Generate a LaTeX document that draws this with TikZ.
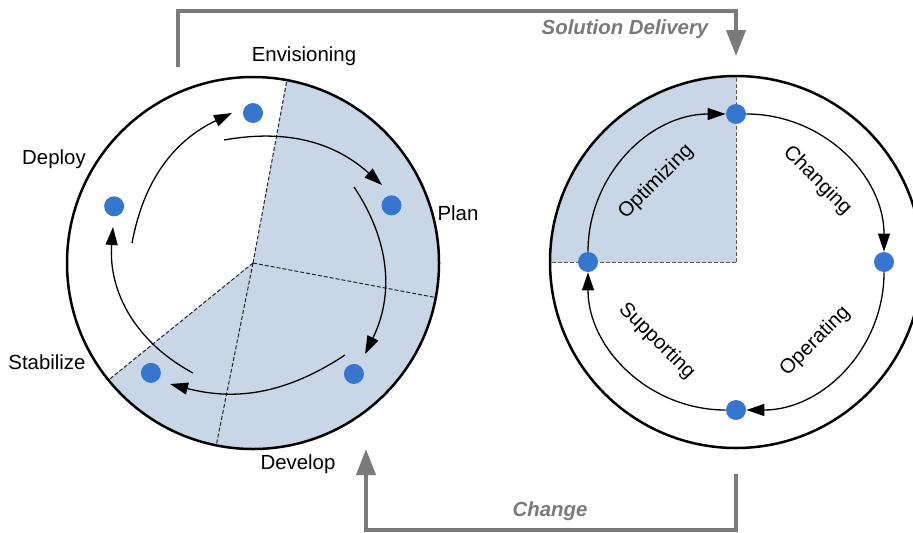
\documentclass[tikz,border=0pt]{standalone}
\usepackage{fontspec}
\setmainfont{Liberation Sans}
\usetikzlibrary{arrows.meta,positioning}
\definecolor{dotblue}{RGB}{54,118,207}
\definecolor{phase}{RGB}{201,214,229}
\definecolor{loopgray}{RGB}{122,122,122}
\tikzset{
  dot/.style={circle,fill=dotblue,minimum size=10pt,inner sep=0pt},
  rim/.style={line width=1.25pt},
  divider/.style={line width=0.5pt,dash pattern=on 2pt off 1pt},
  phasearrow/.style={line width=0.65pt,-{Triangle[length=9pt,width=6pt]}},
  cyclearrow/.style={loopgray,line width=2pt,-{Triangle[length=13pt,width=9.5pt]}},
  looplabel/.style={loopgray,font=\fontsize{10.2}{12}\selectfont\bfseries\itshape}
}

\begin{document}
\begin{tikzpicture}[x=0.5pt,y=0.5pt,font=\fontsize{10.2}{12}\selectfont]
\useasboundingbox (0,0) rectangle (913,532);
\coordinate (L) at (253,269);
\coordinate (R) at (736,270);
% shaded phases
\fill[phase] (L) -- ++(-141:186) arc[start angle=-141,end angle=79.5,radius=186] -- cycle;
\fill[phase] (R) -- ++(90:186) arc[start angle=90,end angle=180,radius=186] -- cycle;
% phase borders
\foreach \a in {79.5,-10.7,-101.4,-141}
  \draw[divider,black!85] (L) -- ++(\a:186);
\foreach \a in {90,180}
  \draw[divider,black!65] (R) -- ++(\a:186);
\draw[rim] (L) circle[radius=186];
\draw[rim] (R) circle[radius=186];

% MSF process model
\node[dot] (envision) at ([shift={(90:150)}]L) {};
\node[dot] (plan) at ([shift={(22.6:150)}]L) {};
\node[dot] (develop) at ([shift={(-47.7:150)}]L) {};
\node[dot] (stabilize) at ([shift={(-132.9:150)}]L) {};
\node[dot] (deploy) at ([shift={(157.8:150)}]L) {};
\node (envlabel) at (304,476) {Envisioning};
\node (planlabel) at (458,319) {Plan};
\node (devlabel) at (298,68) {Develop};
\node (stablabel) at (47,170) {Stabilize};
\node (deplabel) at (54,373) {Deploy};
\draw[phasearrow] (132,289) to[bend left=27] (232,419);
\draw[phasearrow] (224,392) to[bend left=26] (382,347);
\draw[phasearrow] (354,345) to[bend left=30] (365,178);
\draw[phasearrow] (345,177) to[bend left=24] (170,148);
\draw[phasearrow] (193,159) to[bend left=33] (113,305);

% MOF process model
\node[dot] (rtop) at ([shift={(90:148)}]R) {};
\node[dot] (rright) at ([shift={(0:148)}]R) {};
\node[dot] (rbot) at ([shift={(-90:148)}]R) {};
\node[dot] (rleft) at ([shift={(180:148)}]R) {};
\draw[phasearrow] (rleft) to[bend left=45] (rtop);
\draw[phasearrow] (rtop) to[bend left=45] (rright);
\draw[phasearrow] (rright) to[bend left=45] (rbot);
\draw[phasearrow] (rbot) to[bend left=45] (rleft);
\node[rotate=45] (optimizing) at ([shift={(135:113)}]R) {Optimizing};
\node[rotate=-45] (changing) at ([shift={(45:115)}]R) {Changing};
\node[rotate=45] (operating) at ([shift={(-45:112)}]R) {Operating};
\node[rotate=-45] (supporting) at ([shift={(225:112)}]R) {Supporting};

% hand-over between the two cycles
\coordinate (sdfrom) at (178,465);
\coordinate (sdto) at (736,476);
\draw[cyclearrow] (sdfrom) |- (736,521) -- (sdto);
\node[looplabel] (sdlabel) at (625,503) {Solution Delivery};
\coordinate (chfrom) at (736,58);
\coordinate (chto) at (366,83);
\draw[cyclearrow] (chfrom) -- (736,2) -| (chto);
\node[looplabel] (chlabel) at (550,21) {Change};
\end{tikzpicture}
\end{document}
